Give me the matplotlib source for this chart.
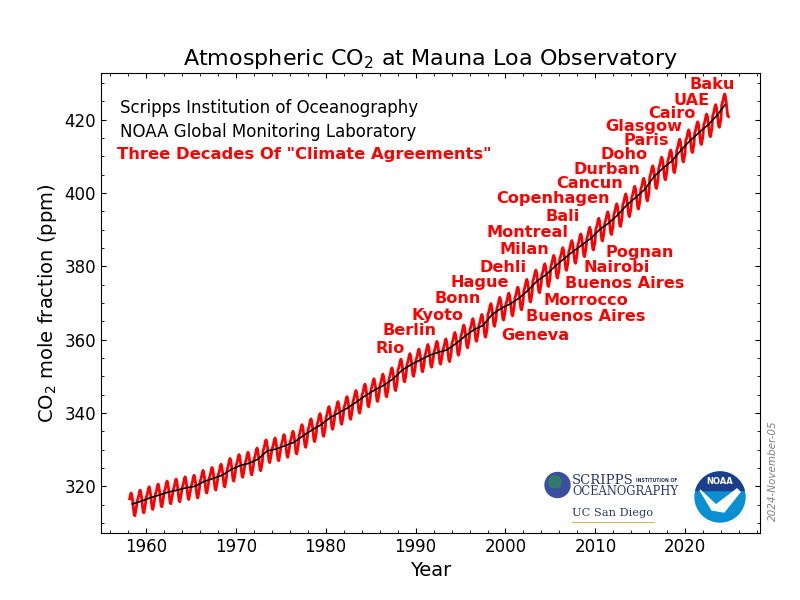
import numpy as np
import matplotlib
matplotlib.use("Agg")
import matplotlib.pyplot as plt
from matplotlib.patches import Circle, Polygon

# annual mean CO2 at Mauna Loa (ppm), 1958 - 2024
years = list(range(1958, 2025))
annual_ppm = [315.2, 315.98, 316.91, 317.64, 318.45, 318.99, 319.62, 320.04, 321.37, 322.18,
              323.05, 324.62, 325.68, 326.32, 327.46, 329.68, 330.19, 331.13, 332.03, 333.84,
              335.41, 336.84, 338.76, 340.12, 341.48, 343.15, 344.87, 346.35, 347.61, 349.31,
              351.69, 353.20, 354.45, 355.70, 356.54, 357.21, 358.96, 360.97, 362.74, 363.88,
              366.84, 368.54, 369.71, 371.32, 373.45, 375.98, 377.70, 379.98, 382.09, 384.02,
              385.83, 387.64, 390.10, 391.85, 394.06, 396.74, 398.81, 401.01, 404.41, 406.76,
              408.72, 411.65, 414.21, 416.41, 418.53, 421.08, 424.0]
# mean seasonal cycle, Jan..Dec (ppm)
seasonal = [0.0, 0.6, 1.4, 2.5, 3.0, 2.3, 0.8, -1.2, -2.9, -3.2, -2.1, -0.9]
first_month = 3   # record starts March 1958
last_month = 10   # ends October 2024

# conference labels
left_names = ["Rio", "Berlin", "Kyoto", "Bonn", "Hague", "Dehli", "Milan", "Montreal", "Bali",
              "Copenhagen", "Cancun", "Durban", "Doho", "Paris", "Glasgow", "Cairo", "UAE", "Baku"]
left_x = [1987.2, 1989.3, 1992.4, 1994.7, 1997.1, 1999.7, 2002.1, 2002.5, 2006.4,
          2005.3, 2009.4, 2011.3, 2013.2, 2015.6, 2015.4, 2018.5, 2020.7, 2023.0]
left_y = [357.7, 362.4, 366.7, 371.1, 375.7, 379.8, 384.7, 389.1, 393.7,
          398.4, 402.5, 406.3, 410.4, 414.2, 418.0, 421.8, 425.3, 429.6]
right_names = ["Geneva", "Buenos Aires", "Morrocco", "Buenos Aires", "Nairobi", "Pognan"]
right_x = [2003.3, 2008.9, 2008.9, 2013.3, 2012.4, 2014.9]
right_y = [361.2, 366.2, 370.8, 375.2, 379.6, 383.9]

# build monthly series
t, co2 = [], []
for yr, mean in zip(years, annual_ppm):
    for m in range(12):
        if yr == years[0] and m + 1 < first_month:
            continue
        if yr == years[-1] and m + 1 > last_month:
            continue
        t.append(yr + (m + 0.5) / 12)
        co2.append(mean + seasonal[m])
trend_t = [y + 0.5 for y in years[:-1]] + [years[-1] + 0.4]

fig = plt.figure(figsize=(8, 6), dpi=100)
ax = fig.add_axes([0.126, 0.1117, 0.824, 0.7666])

ax.plot(t, co2, color='red', lw=2.0)
ax.plot(trend_t, annual_ppm, color='black', lw=1.2)

ax.set_xlim(1955, 2028.3)
ax.set_ylim(307.3, 432.7)
ax.set_xticks(np.arange(1960, 2030, 10))
ax.set_xticks(np.arange(1956, 2029, 2), minor=True)
ax.set_yticks(np.arange(320, 430, 20))
ax.set_yticks(np.arange(310, 433, 5), minor=True)
ax.tick_params(which='both', direction='in', top=True, right=True, labelsize=12)

ax.set_title(r'Atmospheric CO$_2$ at Mauna Loa Observatory', fontsize=16)
ax.set_xlabel('Year', fontsize=14)
ax.set_ylabel(r'CO$_2$ mole fraction (ppm)', fontsize=14)

ax.text(0.029, 0.924, 'Scripps Institution of Oceanography', transform=ax.transAxes,
        fontsize=12, va='center')
ax.text(0.029, 0.872, 'NOAA Global Monitoring Laboratory', transform=ax.transAxes,
        fontsize=12, va='center')
ax.text(0.025, 0.822, 'Three Decades Of "Climate Agreements"', transform=ax.transAxes,
        fontsize=11.8, va='center', color='red', weight='bold')

for name, x, y in zip(left_names, left_x, left_y):
    ax.text(x, y, name, color='red', weight='bold', fontsize=11.6, ha='center', va='center')
for name, x, y in zip(right_names, right_x, right_y):
    ax.text(x, y, name, color='red', weight='bold', fontsize=11.6, ha='center', va='center')

# date stamp
fig.text(0.966, 0.215, '2024-November-05', rotation=90, color='gray', style='italic',
         fontsize=7.5, ha='center', va='center')

# logos (drawn)
lax = fig.add_axes([0, 0, 1, 1], facecolor='none')
lax.set_xlim(0, 800)
lax.set_ylim(600, 0)
lax.set_aspect('equal')
lax.axis('off')
lax.add_patch(Circle((557.5, 485), 12.5, color='#3a4fa0'))
lax.add_patch(Circle((555, 482), 6, color='#2e8b57', alpha=0.7))
lax.text(572, 480, 'SCRIPPS', family='DejaVu Serif', fontsize=9.5, color='#2b3a67', va='center')
lax.text(636, 480, 'INSTITUTION OF', family='DejaVu Sans', fontsize=3.3, color='#2b3a67',
         va='center', weight='bold')
lax.text(572, 491.5, 'OCEANOGRAPHY', family='DejaVu Serif', fontsize=8.3, color='#2b3a67',
         va='center')
lax.text(572, 513, 'UC San Diego', family='DejaVu Serif', fontsize=8.2, color='#2b3a67',
         va='center')
lax.plot([572, 654], [521.5, 521.5], color='#d8b65c', lw=0.8)

lax.add_patch(Circle((720, 497), 25, color='#0b8fd3'))
ang = np.radians(np.linspace(15, 165, 40))
arc = np.column_stack([720 + 25 * np.cos(ang), 497 - 25 * np.sin(ang)])
lax.add_patch(Polygon(arc, closed=True, color='#1c3f8c'))
bird = [[700, 490], [716, 505], [737, 489], [740, 492], [724, 512], [712, 510]]
lax.add_patch(Polygon(bird, closed=True, color='white'))
lax.text(720, 482, 'NOAA', color='white', fontsize=6, weight='bold', ha='center', va='center')

fig.savefig('out.png', dpi=100)
